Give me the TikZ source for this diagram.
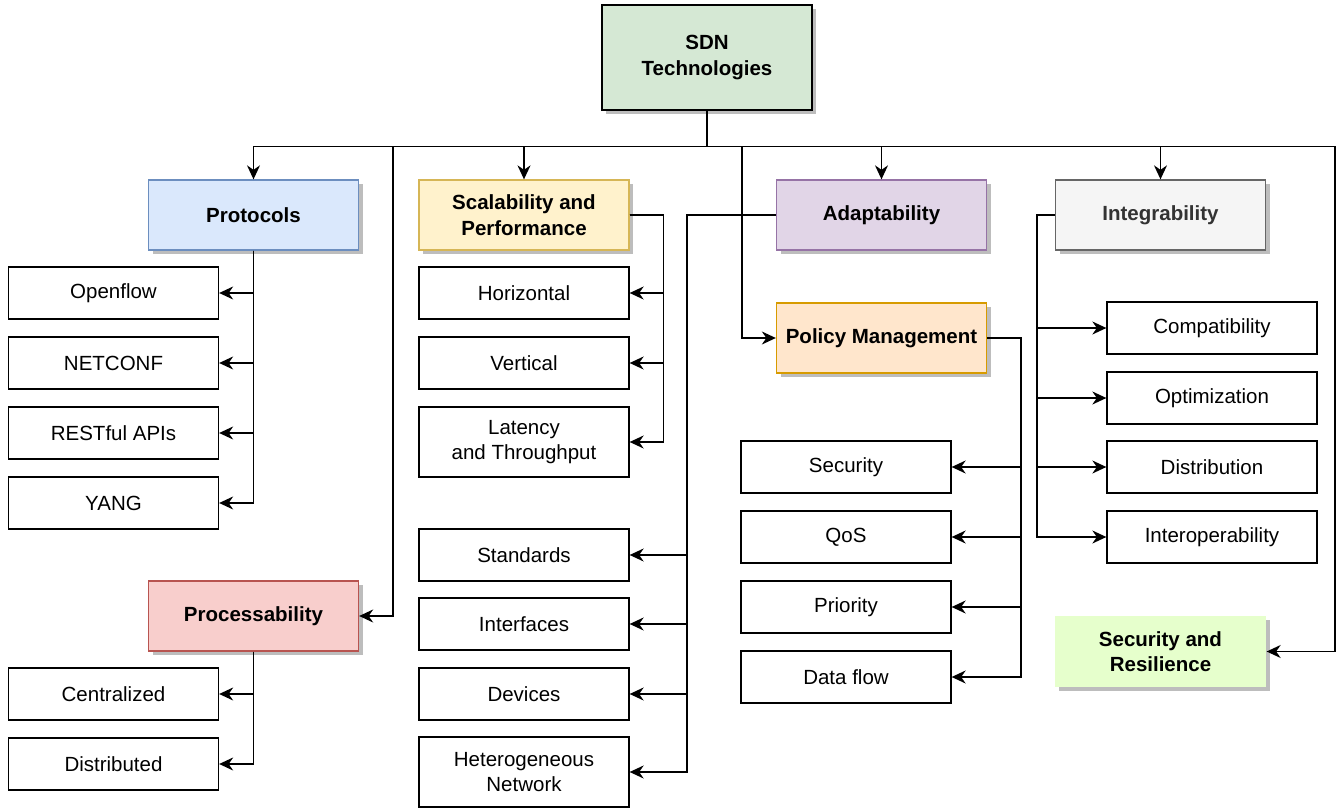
\documentclass[tikz,border=0pt]{standalone}
\usepackage{fontspec}
\setmainfont{Liberation Sans}
\usetikzlibrary{arrows.meta,shadows}

\definecolor{sdnfill}{HTML}{D5E8D4}
\definecolor{bluefill}{HTML}{DAE8FC}\definecolor{bluedraw}{HTML}{6C8EBF}
\definecolor{yelfill}{HTML}{FFF2CC}\definecolor{yeldraw}{HTML}{D6B656}
\definecolor{purfill}{HTML}{E1D5E7}\definecolor{purdraw}{HTML}{9673A6}
\definecolor{orafill}{HTML}{FFE6CC}\definecolor{oradraw}{HTML}{D79B00}
\definecolor{grayfill}{HTML}{F5F5F5}\definecolor{graydraw}{HTML}{666666}
\definecolor{graytext}{HTML}{333333}
\definecolor{limefill}{HTML}{E6FFCC}
\definecolor{redfill}{HTML}{F8CECC}\definecolor{reddraw}{HTML}{B85450}
\definecolor{shadowgray}{HTML}{BDBDBD}

\tikzset{
  txt/.style={font=\fontsize{20.5}{25.5}\selectfont, align=center, inner sep=0pt},
  wbox/.style={txt, draw=black, line width=1.3pt, fill=white,
    minimum width=210, minimum height=52},
  cbox/.style={txt, font=\fontsize{20.5}{25.5}\selectfont\bfseries, line width=1.3pt,
    minimum width=210, minimum height=70,
    drop shadow={shadow xshift=4pt, shadow yshift=-4pt, fill=shadowgray, opacity=1}},
  arr/.style={draw=black, line width=1.4pt,
    -{Stealth[length=14pt, width=13pt, inset=4.5pt]}},
  link/.style={draw=black, line width=1.4pt}
}

\begin{document}
\begin{tikzpicture}[x=1pt, y=-1pt]
\useasboundingbox (0,0) rectangle (1342,808);

% root
\node[cbox, draw=black, fill=sdnfill, minimum width=210, minimum height=105] (sdn) at (707,57.5) {SDN\\Technologies};

% second-level categories
\node[cbox, draw=bluedraw, fill=bluefill] (proto) at (253.5,215) {Protocols};
\node[cbox, draw=yeldraw, fill=yelfill] (scal) at (524,215) {Scalability and\\Performance};
\node[cbox, draw=purdraw, fill=purfill] (adapt) at (881.5,215) {Adaptability};
\node[cbox, draw=oradraw, fill=orafill] (policy) at (881.5,338) {Policy Management};
\node[cbox, draw=graydraw, fill=grayfill, text=graytext] (integ) at (1160.5,215) {Integrability};
\node[cbox, draw=none, fill=limefill, minimum width=211, minimum height=71] (secres) at (1160.5,651.5) {Security and\\Resilience};
\node[cbox, draw=reddraw, fill=redfill] (proc) at (253.5,616) {Processability};

% protocol leaves
\node[wbox] (openflow) at (113.5,293) {Openflow};
\node[wbox] (netconf) at (113.5,363) {NETCONF};
\node[wbox] (restful) at (113.5,433) {RESTful APIs};
\node[wbox] (yang) at (113.5,503) {YANG};

% processability leaves
\node[wbox] (central) at (113.5,694) {Centralized};
\node[wbox] (distrib) at (113.5,764) {Distributed};

% scalability leaves
\node[wbox] (horiz) at (524,293) {Horizontal};
\node[wbox] (vert) at (524,363) {Vertical};
\node[wbox, minimum height=70] (latency) at (524,442) {Latency\\and Throughput};

% adaptability leaves
\node[wbox] (standards) at (524,555) {Standards};
\node[wbox] (interfaces) at (524,624) {Interfaces};
\node[wbox] (devices) at (524,694) {Devices};
\node[wbox, minimum height=70] (hetero) at (524,772) {Heterogeneous\\Network};

% policy leaves
\node[wbox] (security) at (846,467) {Security};
\node[wbox] (qos) at (846,537) {QoS};
\node[wbox] (priority) at (846,607) {Priority};
\node[wbox] (dataflow) at (846,677) {Data flow};

% integrability leaves
\node[wbox] (compat) at (1212,328) {Compatibility};
\node[wbox] (optim) at (1212,398) {Optimization};
\node[wbox] (distribution) at (1212,467) {Distribution};
\node[wbox] (interop) at (1212,537) {Interoperability};

% bend points of the long connectors
\coordinate (procbend) at (393,616);
\coordinate (policybend) at (742,338);
\coordinate (secbend) at (1335,651.5);

% root to categories
\draw[arr] (sdn.south) -- ++(0,36) -| (proto.north);
\draw[arr] (sdn.south) -- ++(0,36) -| (scal.north);
\draw[arr] (sdn.south) -- ++(0,36) -| (adapt.north);
\draw[arr] (sdn.south) -- ++(0,36) -| (integ.north);
\draw[arr] (sdn.south) -- ++(0,36) -| (procbend) -- (proc.east);
\draw[arr] (sdn.south) -- ++(0,36) -| (policybend) -- (policy.west);
\draw[arr] (sdn.south) -- ++(0,36) -| (secbend) -- (secres.east);

% protocols
\foreach \n in {openflow,netconf,restful,yang}
  \draw[arr] (proto.south) |- (\n.east);
% processability
\foreach \n in {central,distrib}
  \draw[arr] (proc.south) |- (\n.east);
% scalability
\foreach \n in {horiz,vert,latency}
  \draw[arr] (scal.east) -- ++(34,0) |- (\n.east);
% adaptability
\foreach \n in {standards,interfaces,devices,hetero}
  \draw[arr] (adapt.west) -- ++(-89,0) |- (\n.east);
% policy management
\foreach \n in {security,qos,priority,dataflow}
  \draw[arr] (policy.east) -- ++(34,0) |- (\n.east);
% integrability
\foreach \n in {compat,optim,distribution,interop}
  \draw[arr] (integ.west) -- ++(-18,0) |- (\n.west);
\end{tikzpicture}
\end{document}
